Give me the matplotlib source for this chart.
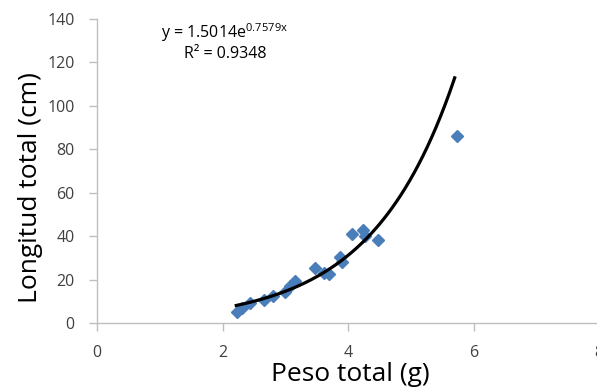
import numpy as np
import matplotlib
matplotlib.use("Agg")
import matplotlib.pyplot as plt

plt.rcParams['font.family'] = ['Open Sans', 'DejaVu Sans']

# datos
peso = [2.23, 2.31, 2.44, 2.66, 2.81, 3.00, 3.08, 3.16, 3.48, 3.61, 3.69,
        3.87, 3.90, 4.06, 4.24, 4.27, 4.48, 5.73]
longitud = [5, 7, 9, 10.5, 12.5, 14.5, 17, 19.5, 25.5, 23, 22.5,
            30.5, 28, 41, 43, 40, 38, 86]

# ajuste exponencial
a, b = 1.5014, 0.7579
r2 = 0.9348

xticks = [0, 2, 4, 6, 8]
yticks = [0, 20, 40, 60, 80, 100, 120, 140]

fig = plt.figure(figsize=(5.97, 3.89), dpi=100)
fig.patch.set_facecolor('white')
ax = fig.add_axes([97/597, 66/389, 502/597, 304/389])

ax.plot(peso, longitud, 'D', color='#4a7ebb', ms=6.5, mec='#4a7ebb', zorder=2)
xf = np.linspace(2.22, 5.7, 200)
ax.plot(xf, a*np.exp(b*xf), color='black', lw=2.3, zorder=3)

ax.set_xlim(0, 8)
ax.set_ylim(0, 140)
ax.set_xticks(xticks)
ax.set_yticks(yticks)
ax.tick_params(labelsize=11.5, colors='#404040', length=6, width=1)
ax.tick_params(axis='both', color='#bfbfbf')
ax.tick_params(axis='y', pad=10)
ax.tick_params(axis='x', pad=10)
for s in ['top', 'right']:
    ax.spines[s].set_visible(False)
for s in ['left', 'bottom']:
    ax.spines[s].set_color('#bfbfbf')
    ax.spines[s].set_linewidth(1)

ax.set_xlabel('Peso total (g)', fontsize=19)
ax.set_ylabel('Longitud total (cm)', fontsize=19)
ax.xaxis.set_label_coords(0.504, -0.17)
ax.yaxis.set_label_coords(-0.132, 0.444)
ax.xaxis.label.set_va('center')
ax.yaxis.label.set_va('center')

ax.text(0.255, 0.955, r'y = 1.5014e$^{\mathregular{0.7579x}}$', transform=ax.transAxes,
        fontsize=11.5, ha='center', va='center')
ax.text(0.255, 0.885, 'R² = %.4f' % r2, transform=ax.transAxes,
        fontsize=11.5, ha='center', va='center')

fig.savefig('out.png', dpi=100)
